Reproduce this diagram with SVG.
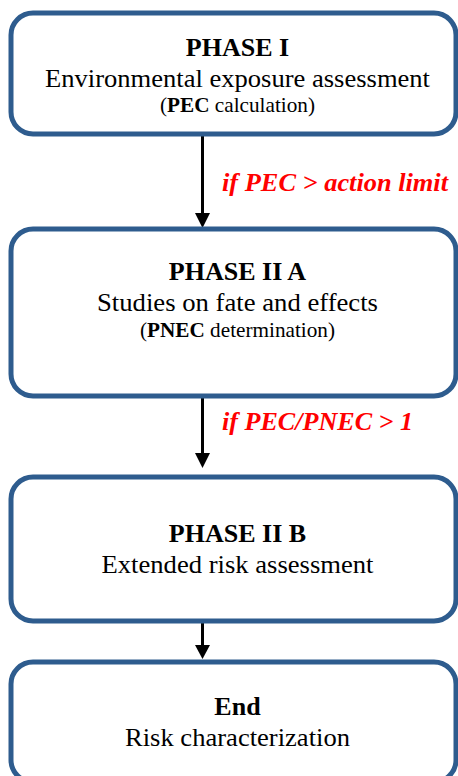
<svg xmlns="http://www.w3.org/2000/svg" width="458" height="776" viewBox="0 0 458 776">
<style>
.box{fill:#fff;stroke:#2E5C8E;stroke-width:5}
.t{font-family:"Liberation Serif","Tinos","Times New Roman","DejaVu Serif",serif;fill:#000;text-anchor:middle}
.h{font-size:26px;font-weight:bold}
.m{font-size:26px;font-weight:normal;font-style:normal}
.s{font-size:21px;font-weight:normal}
.b{font-weight:bold}
.lbl{font-family:"Liberation Serif","Tinos","Times New Roman","DejaVu Serif",serif;font-size:26px;font-weight:bold;font-style:italic;fill:#FF0000}
.ln{stroke:#000;stroke-width:3;fill:none}
.hd{fill:#000}
</style>
<rect width="458" height="776" fill="#fff"/>
<g id="connectors">
<line class="ln" x1="202.5" y1="135" x2="202.5" y2="215"/>
<polygon class="hd" points="195,213 210,213 202.5,228"/>
<line class="ln" x1="202.5" y1="397" x2="202.5" y2="455"/>
<polygon class="hd" points="195,453 210,453 202.5,468"/>
<line class="ln" x1="202.5" y1="613" x2="202.5" y2="647"/>
<polygon class="hd" points="195,645 210,645 202.5,659"/>
<text class="lbl" x="222" y="191" textLength="226" lengthAdjust="spacingAndGlyphs">if PEC &gt; action limit</text>
<text class="lbl" x="222" y="430" textLength="191" lengthAdjust="spacingAndGlyphs">if PEC/PNEC &gt; 1</text>
</g>
<g id="phase1">
<rect class="box" x="11" y="13" width="445" height="121" rx="22"/>
<text class="t h" x="237.5" y="56">PHASE I</text>
<text class="t m" x="237.5" y="87" textLength="385" lengthAdjust="spacingAndGlyphs">Environmental exposure assessment</text>
<text class="t s" x="237.5" y="112" textLength="155" lengthAdjust="spacingAndGlyphs">(<tspan class="b">PEC</tspan> calculation)</text>
</g>
<g id="phase2a">
<rect class="box" x="11" y="229" width="445" height="167" rx="22"/>
<text class="t h" x="237.5" y="280">PHASE II A</text>
<text class="t m" x="237.5" y="311" textLength="281" lengthAdjust="spacingAndGlyphs">Studies on fate and effects</text>
<text class="t s" x="237.5" y="337" textLength="195" lengthAdjust="spacingAndGlyphs">(<tspan class="b">PNEC</tspan> determination)</text>
</g>
<g id="phase2b">
<rect class="box" x="11" y="477" width="445" height="144" rx="22"/>
<text class="t h" x="237.5" y="542">PHASE II B</text>
<text class="t m" x="237.5" y="573" textLength="272" lengthAdjust="spacingAndGlyphs">Extended risk assessment</text>
</g>
<g id="end">
<rect class="box" x="11" y="662" width="445" height="120" rx="22"/>
<text class="t h" x="237.5" y="715">End</text>
<text class="t m" x="237.5" y="746" textLength="225" lengthAdjust="spacingAndGlyphs">Risk characterization</text>
</g>
</svg>
